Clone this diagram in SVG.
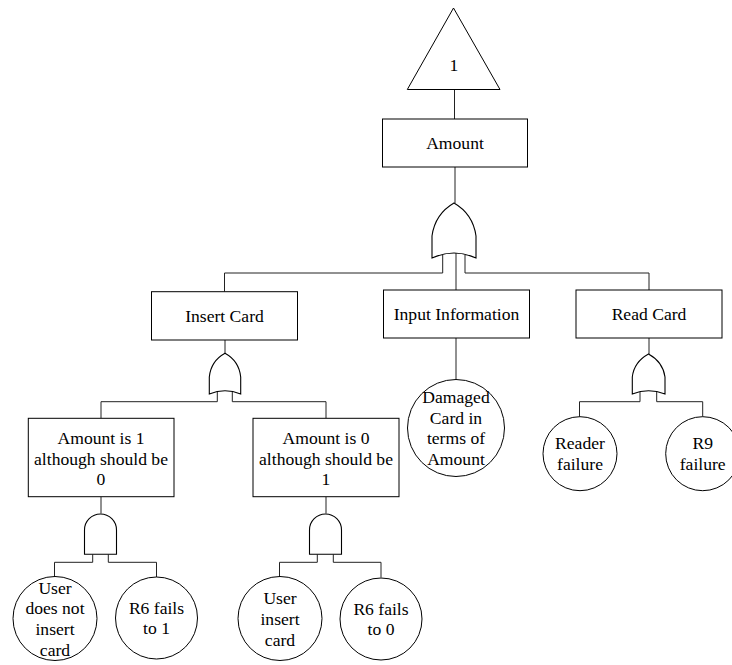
<svg xmlns="http://www.w3.org/2000/svg" width="732" height="665" viewBox="0 0 732 665">
  <style>
    .shape { fill: #fff; stroke: #000; stroke-width: 1; }
    .gate { fill: #fff; stroke: #000; stroke-width: 1.1; }
    .wire { fill: none; stroke: #222; stroke-width: 1; }
    text { font-family: "Liberation Serif", "Times New Roman", serif; font-size: 17.6px; fill: #000; text-anchor: middle; }
  </style>
  <rect width="732" height="665" fill="#fff"/>

  <!-- connectors -->
  <g id="connectors">
    <path class="wire" d="M454.5,89.5 V119"/>
    <path class="wire" d="M455,167 V203"/>
    <!-- top OR gate outputs -->
    <path class="wire" d="M442.7,255 V273 H224.5 V291.7"/>
    <path class="wire" d="M456,253 V290"/>
    <path class="wire" d="M465,255 V273 H649 V290"/>
    <!-- Insert Card branch -->
    <path class="wire" d="M225,340 V353.5"/>
    <path class="wire" d="M217.3,392 V401.7 H101 V418.3"/>
    <path class="wire" d="M232.3,392 V401.7 H326 V418.3"/>
    <!-- Input Information branch -->
    <path class="wire" d="M456,338 V379.5"/>
    <!-- Read Card branch -->
    <path class="wire" d="M649,338 V354"/>
    <path class="wire" d="M640,392 V401.7 H579.5 V416.7"/>
    <path class="wire" d="M656.7,392 V401.7 H702.7 V416.7"/>
    <!-- AND gate 1 -->
    <path class="wire" d="M101,496.7 V513.5"/>
    <path class="wire" d="M92.7,554.3 V562.3 H54.5 V577"/>
    <path class="wire" d="M108.3,554.3 V562.3 H156.5 V577"/>
    <!-- AND gate 2 -->
    <path class="wire" d="M326,496.7 V513.5"/>
    <path class="wire" d="M317.3,554.3 V562.3 H279.5 V577"/>
    <path class="wire" d="M333.3,554.3 V562.3 H381 V577.5"/>
  </g>

  <!-- transfer triangle -->
  <g id="transfer">
    <polygon class="shape" points="453.5,8 407.3,89.5 500,89.5"/>
    <text x="454" y="71">1</text>
  </g>

  <g id="amount">
    <rect class="shape" x="382.5" y="119" width="145" height="48"/>
    <text x="455" y="149">Amount</text>
  </g>

  <g id="or-top">
    <path class="gate" d="M432,258 L432,236 Q435,214 454,203 Q473,214 476,236 L476,258 Q454,248 432,258 Z"/>
  </g>

  <g id="insert-card">
    <rect class="shape" x="151.5" y="291.7" width="146" height="48.3"/>
    <text x="224.5" y="321.8">Insert Card</text>
  </g>

  <g id="input-information">
    <rect class="shape" x="383.5" y="290" width="146" height="48"/>
    <text x="456.5" y="320">Input Information</text>
  </g>

  <g id="read-card">
    <rect class="shape" x="576" y="290" width="146" height="48"/>
    <text x="649" y="320">Read Card</text>
  </g>

  <g id="or-insert">
    <path class="gate" d="M209.3,394 L209.3,377 Q211,361 225,353.3 Q239,361 240.7,377 L240.7,394 Q225,387.4 209.3,394 Z"/>
  </g>

  <g id="or-read">
    <path class="gate" d="M632.3,394 L632.3,377 Q634,362 648.5,354 Q663,362 665,377 L665,394 Q648.5,387.4 632.3,394 Z"/>
  </g>

  <g id="amount-is-1">
    <rect class="shape" x="28.3" y="418.3" width="145.7" height="78.4"/>
    <text x="101" y="443.8">Amount is 1</text>
    <text x="101" y="464.5">although should be</text>
    <text x="101" y="485.2">0</text>
  </g>

  <g id="amount-is-0">
    <rect class="shape" x="253" y="418.3" width="146" height="78.4"/>
    <text x="326" y="443.8">Amount is 0</text>
    <text x="326" y="464.5">although should be</text>
    <text x="326" y="485.2">1</text>
  </g>

  <g id="damaged-card">
    <circle class="shape" cx="456" cy="428" r="48.5"/>
    <text x="456" y="402.9">Damaged</text>
    <text x="456" y="423.6">Card in</text>
    <text x="456" y="444.4">terms of</text>
    <text x="456" y="465">Amount</text>
  </g>

  <g id="reader-failure">
    <circle class="shape" cx="580" cy="453.7" r="37"/>
    <text x="580" y="449.4">Reader</text>
    <text x="580" y="470">failure</text>
  </g>

  <g id="r9-failure">
    <circle class="shape" cx="702.7" cy="453.7" r="37"/>
    <text x="702.7" y="449.4">R9</text>
    <text x="702.7" y="470">failure</text>
  </g>

  <g id="and-1">
    <path class="gate" d="M84.5,554.3 L84.5,530 A16,16 0 0 1 116.5,530 L116.5,554.3 Z"/>
  </g>

  <g id="and-2">
    <path class="gate" d="M309.5,554.3 L309.5,530 A16,16 0 0 1 341.5,530 L341.5,554.3 Z"/>
  </g>

  <g id="user-not-insert">
    <circle class="shape" cx="55" cy="618.5" r="42"/>
    <text x="55" y="593.5">User</text>
    <text x="55" y="614.2">does not</text>
    <text x="55" y="634.9">insert</text>
    <text x="55" y="655.6">card</text>
  </g>

  <g id="r6-fails-1">
    <circle class="shape" cx="156.5" cy="618" r="41"/>
    <text x="156.5" y="613.6">R6 fails</text>
    <text x="156.5" y="634.3">to 1</text>
  </g>

  <g id="user-insert">
    <circle class="shape" cx="280" cy="618.5" r="42"/>
    <text x="280" y="604.1">User</text>
    <text x="280" y="624.8">insert</text>
    <text x="280" y="645.5">card</text>
  </g>

  <g id="r6-fails-0">
    <circle class="shape" cx="381" cy="619" r="41"/>
    <text x="381" y="614.6">R6 fails</text>
    <text x="381" y="635.3">to 0</text>
  </g>
</svg>
